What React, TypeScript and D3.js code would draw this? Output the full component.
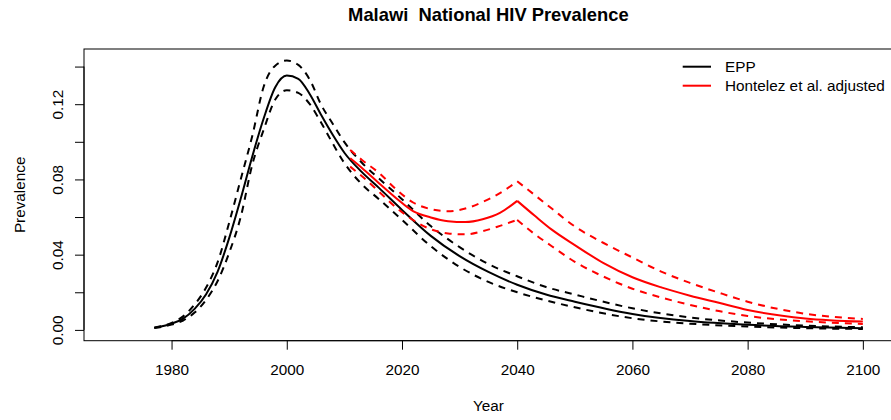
import * as d3 from 'd3';
import React, { useEffect, useRef } from 'react';

// EPP estimate with its bounds
const eppYears = [1977, 1980, 1982, 1984, 1986, 1988, 1990, 1992, 1994, 1996, 1998, 2000, 2002, 2004, 2006, 2008, 2010, 2013, 2016, 2020, 2025, 2030, 2035, 2040, 2045, 2050, 2060, 2070, 2080, 2090, 2100];
const eppMid = [0.0012, 0.0033, 0.006, 0.0112, 0.019, 0.031, 0.0488, 0.0697, 0.0921, 0.1125, 0.129, 0.1352, 0.1335, 0.1253, 0.1141, 0.1036, 0.0942, 0.084, 0.0755, 0.0638, 0.05, 0.0392, 0.0308, 0.024, 0.0188, 0.015, 0.0085, 0.0047, 0.0027, 0.0016, 0.0009];
const eppHigh = [0.0012, 0.0037, 0.0072, 0.0135, 0.0225, 0.036, 0.057, 0.08, 0.103, 0.1294, 0.1405, 0.1432, 0.1409, 0.133, 0.1195, 0.1095, 0.0998, 0.089, 0.0805, 0.0695, 0.0552, 0.044, 0.035, 0.0285, 0.0228, 0.0188, 0.0115, 0.0066, 0.0039, 0.0023, 0.0014];
const eppLow = [0.001, 0.0028, 0.005, 0.0092, 0.016, 0.026, 0.041, 0.06, 0.0877, 0.1065, 0.1225, 0.1274, 0.126, 0.12, 0.11, 0.099, 0.0887, 0.0775, 0.0695, 0.0585, 0.0445, 0.0335, 0.0255, 0.02, 0.0157, 0.012, 0.0062, 0.0033, 0.0018, 0.0009, 0.0005];

// Hontelez et al. adjusted projection
const hontYears = [2011, 2013, 2016, 2019, 2022, 2025, 2028, 2031, 2034, 2037, 2040, 2043, 2046, 2050, 2055, 2060, 2065, 2070, 2075, 2080, 2090, 2100];
const hontMid = [0.0913, 0.0862, 0.078, 0.07, 0.063, 0.0598, 0.0578, 0.0573, 0.0588, 0.0622, 0.0686, 0.0608, 0.0533, 0.0451, 0.0355, 0.028, 0.0226, 0.0182, 0.0144, 0.0106, 0.0061, 0.0044];
const hontHigh = [0.0957, 0.0905, 0.0835, 0.0747, 0.0676, 0.0642, 0.0631, 0.0645, 0.068, 0.0727, 0.079, 0.0718, 0.0645, 0.055, 0.0462, 0.0385, 0.031, 0.025, 0.0198, 0.015, 0.0086, 0.0058];
const hontLow = [0.0868, 0.0818, 0.0735, 0.065, 0.0583, 0.0535, 0.0513, 0.0508, 0.0525, 0.0553, 0.0585, 0.051, 0.0445, 0.0362, 0.0283, 0.0219, 0.0172, 0.0133, 0.01, 0.0074, 0.0046, 0.0032];
const hontBreak = 2040; // the projection turns sharply here

const xTicks = [1980, 2000, 2020, 2040, 2060, 2080, 2100];
const yTicks = [0, 0.02, 0.04, 0.06, 0.08, 0.1, 0.12, 0.14];
const yLabelled = [0, 0.04, 0.08, 0.12];

const legendItems = ['EPP', 'Hontelez et al. adjusted'];
const legendColors = ['black', 'red'];

const width = 891;
const height = 420;
const font = '"Liberation Sans", Arial, Helvetica, sans-serif';
const fs = 15.3;

const App: React.FC = () => {
  const ref = useRef<SVGSVGElement>(null);

  useEffect(() => {
    const svg = d3.select(ref.current);
    svg.selectAll('*').remove();

    const plot = { left: 84, top: 49, right: 892.8, bottom: 340.7 };

    // R style limits: data range padded 4% on each side
    const pad = (lo: number, hi: number) => [lo - 0.04 * (hi - lo), hi + 0.04 * (hi - lo)];
    const x = d3.scaleLinear().domain(pad(1970, 2100)).range([plot.left, plot.right]);
    const y = d3.scaleLinear().domain(pad(0, 0.1436)).range([plot.bottom, plot.top]);

    // title
    svg.append('text')
      .attr('x', (plot.left + plot.right) / 2)
      .attr('y', 20.5)
      .attr('text-anchor', 'middle')
      .attr('font-weight', 'bold')
      .attr('font-size', fs * 1.2)
      .attr('font-family', font)
      .style('white-space', 'pre')
      .text('Malawi  National HIV Prevalence');

    // lines, optionally split at a break year so the corner stays sharp
    const drawLine = (years: number[], vals: number[], color: string, dashed: boolean, brk?: number) => {
      const pts = years.map((yr, i) => [yr, vals[i]] as [number, number]);
      const parts = brk === undefined
        ? [pts]
        : [pts.filter(p => p[0] <= brk), pts.filter(p => p[0] >= brk)];
      const line = d3.line<[number, number]>()
        .x(d => x(d[0]))
        .y(d => y(d[1]))
        .curve(d3.curveMonotoneX);
      parts.forEach(part => {
        svg.append('path')
          .datum(part)
          .attr('fill', 'none')
          .attr('stroke', color)
          .attr('stroke-width', 2)
          .attr('stroke-dasharray', dashed ? '7,6' : null)
          .attr('d', line);
      });
    };

    drawLine(eppYears, eppMid, 'black', false);
    drawLine(eppYears, eppHigh, 'black', true);
    drawLine(eppYears, eppLow, 'black', true);
    drawLine(hontYears, hontMid, 'red', false, hontBreak);
    drawLine(hontYears, hontHigh, 'red', true, hontBreak);
    drawLine(hontYears, hontLow, 'red', true, hontBreak);

    // box
    svg.append('rect')
      .attr('x', plot.left)
      .attr('y', plot.top)
      .attr('width', plot.right - plot.left)
      .attr('height', plot.bottom - plot.top)
      .attr('fill', 'none')
      .attr('stroke', 'black')
      .attr('stroke-width', 1);

    // x axis
    const gx = svg.append('g')
      .attr('transform', `translate(0,${plot.bottom})`)
      .call(d3.axisBottom(x).tickValues(xTicks).tickSize(9).tickFormat(d3.format('d')));
    gx.select('.domain').remove();
    gx.append('line')
      .attr('x1', x(xTicks[0])).attr('x2', x(xTicks[xTicks.length - 1]))
      .attr('stroke', 'black');
    gx.selectAll('text')
      .attr('y', 23)
      .attr('font-size', fs)
      .attr('font-family', font)
      .attr('fill', 'black');

    // y axis
    const gy = svg.append('g')
      .attr('transform', `translate(${plot.left},0)`)
      .call(d3.axisLeft(y).tickValues(yTicks).tickSize(9)
        .tickFormat(d => (yLabelled.some(v => Math.abs(v - +d) < 1e-9) ? d3.format('.2f')(+d) : '')));
    gy.select('.domain').remove();
    gy.append('line')
      .attr('y1', y(yTicks[0])).attr('y2', y(yTicks[yTicks.length - 1]))
      .attr('stroke', 'black');
    gy.selectAll('text')
      .attr('transform', 'rotate(-90)')
      .attr('x', 0)
      .attr('y', -27)
      .attr('dy', '0.36em')
      .attr('text-anchor', 'middle')
      .attr('font-size', fs)
      .attr('font-family', font)
      .attr('fill', 'black');

    // axis titles
    svg.append('text')
      .attr('x', (plot.left + plot.right) / 2)
      .attr('y', 410.5)
      .attr('text-anchor', 'middle')
      .attr('font-size', fs)
      .attr('font-family', font)
      .text('Year');

    svg.append('text')
      .attr('transform', `translate(24.5,${(plot.top + plot.bottom) / 2}) rotate(-90)`)
      .attr('text-anchor', 'middle')
      .attr('font-size', fs)
      .attr('font-family', font)
      .text('Prevalence');

    // legend, no frame
    const lg = svg.append('g');
    legendItems.forEach((name, i) => {
      const ly = 66.7 + i * 19;
      lg.append('line')
        .attr('x1', 682.7).attr('x2', 711)
        .attr('y1', ly).attr('y2', ly)
        .attr('stroke', legendColors[i])
        .attr('stroke-width', 2);
      lg.append('text')
        .attr('x', 725)
        .attr('y', ly)
        .attr('dy', '0.36em')
        .attr('font-size', fs)
        .attr('font-family', font)
        .text(name);
    });
  }, []);

  return (
    <svg
      ref={ref}
      width={width}
      height={height}
      style={{ position: 'absolute', left: 0, top: 0, background: 'white' }}
    />
  );
};

export default App;
